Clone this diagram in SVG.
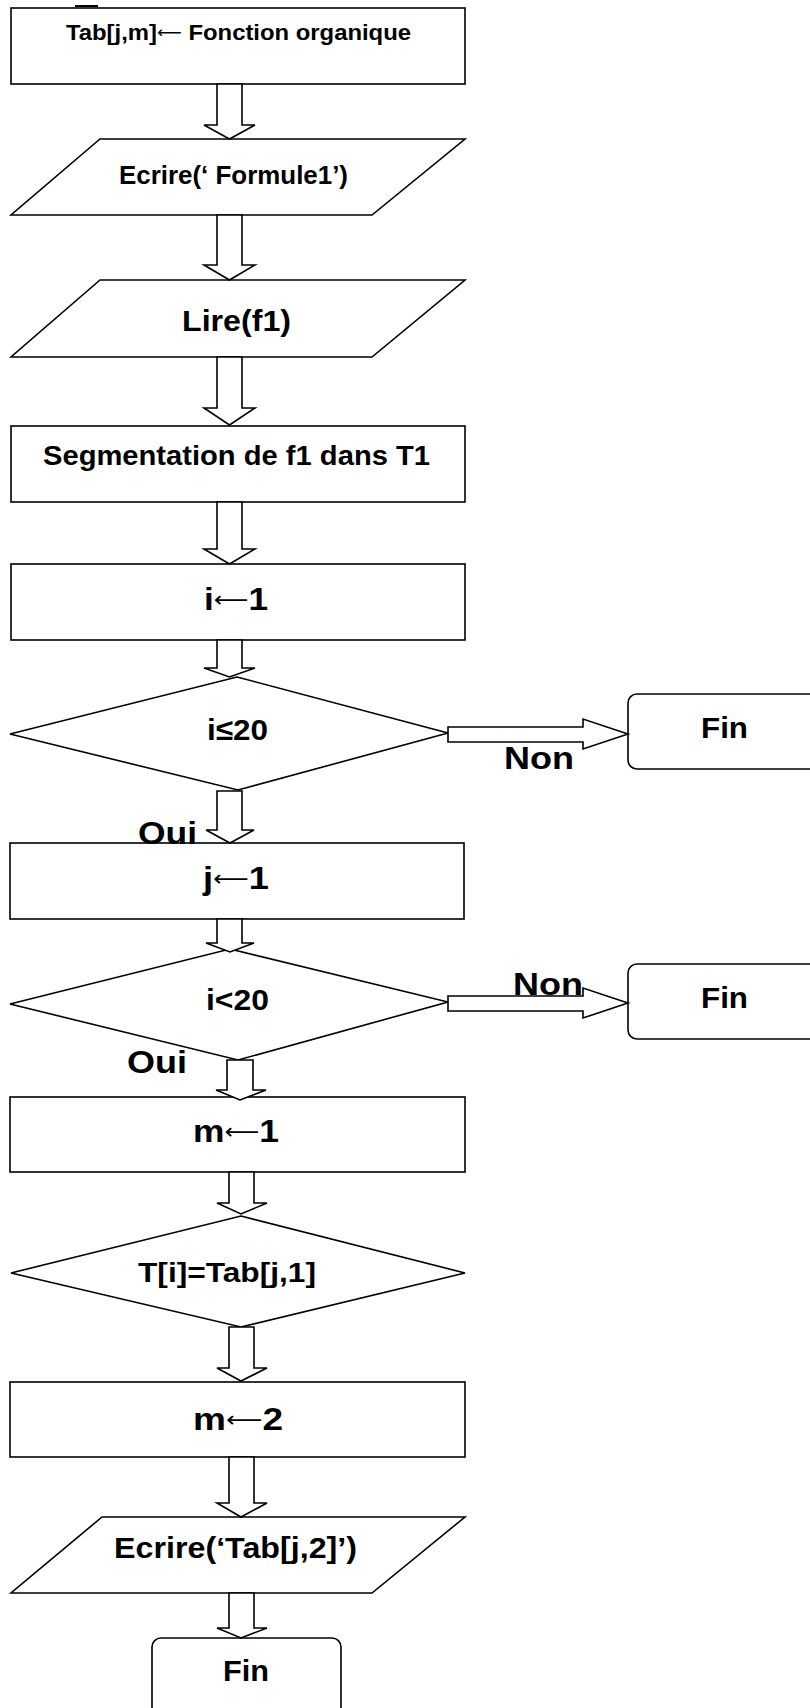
<svg xmlns="http://www.w3.org/2000/svg" width="810" height="1708" viewBox="0 0 810 1708">
<style>
.n{fill:#fff;stroke:#000;stroke-width:1.6}
.c{fill:#fff;stroke:#000;stroke-width:1.6;stroke-linejoin:miter}
.t{font-family:"Liberation Sans",Arial,sans-serif;font-weight:bold;fill:#000}
.a{font-family:"DejaVu Sans",sans-serif;font-weight:normal}
</style>
<rect width="810" height="1708" fill="#fff"/>
<line x1="75" y1="6" x2="98" y2="6" stroke="#000" stroke-width="2"/>
<g id="n1"><rect class="n" x="11" y="8" width="454" height="76"/>
<text class="t" x="66" y="40" font-size="22" textLength="345" lengthAdjust="spacingAndGlyphs">Tab[j,m]<tspan class="a" font-size="16" dy="-2">⟵</tspan><tspan dy="2"> Fonction organique</tspan></text></g>
<g id="n2"><polygon class="n" points="100,139 465,139 372,215 11,215"/>
<text class="t" x="119" y="184" font-size="26" textLength="229" lengthAdjust="spacingAndGlyphs">Ecrire(‘ Formule1’)</text></g>
<g id="n3"><polygon class="n" points="100,280 465,280 372,357 11,357"/>
<text class="t" x="182" y="331" font-size="30" textLength="109" lengthAdjust="spacingAndGlyphs">Lire(f1)</text></g>
<g id="n4"><rect class="n" x="11" y="426" width="454" height="76"/>
<text class="t" x="43" y="465" font-size="28" textLength="387" lengthAdjust="spacingAndGlyphs">Segmentation de f1 dans T1</text></g>
<g id="n5"><rect class="n" x="11" y="564" width="454" height="76"/>
<text class="t" x="204" y="610" font-size="32" textLength="64" lengthAdjust="spacingAndGlyphs">i<tspan class="a" font-size="22" dy="-3">⟵</tspan><tspan dy="3">1</tspan></text></g>
<g id="n6"><polygon class="n" points="237,677 448,733 238,790 10,734"/>
<text class="t" x="207" y="740" font-size="30" textLength="61" lengthAdjust="spacingAndGlyphs">i≤20</text></g>
<g id="n7"><rect class="n" x="628" y="694" width="200" height="75" rx="9"/>
<text class="t" x="701" y="738" font-size="30" textLength="47" lengthAdjust="spacingAndGlyphs">Fin</text></g>
<g id="n8"><rect class="n" x="10" y="843" width="454" height="76"/>
<text class="t" x="203" y="889" font-size="32" textLength="66" lengthAdjust="spacingAndGlyphs">j<tspan class="a" font-size="22" dy="-3">⟵</tspan><tspan dy="3">1</tspan></text></g>
<g id="n9"><polygon class="n" points="230,949 448,1002 238,1060 10,1004"/>
<text class="t" x="206" y="1010" font-size="30" textLength="63" lengthAdjust="spacingAndGlyphs">i&lt;20</text></g>
<g id="n10"><rect class="n" x="628" y="964" width="200" height="75" rx="9"/>
<text class="t" x="701" y="1008" font-size="30" textLength="47" lengthAdjust="spacingAndGlyphs">Fin</text></g>
<g id="n11"><rect class="n" x="10" y="1097" width="455" height="75"/>
<text class="t" x="193" y="1142" font-size="32" textLength="86" lengthAdjust="spacingAndGlyphs">m<tspan class="a" font-size="22" dy="-3">⟵</tspan><tspan dy="3">1</tspan></text></g>
<g id="n12"><polygon class="n" points="241,1216 465,1273 241,1327 11,1273"/>
<text class="t" x="138" y="1282" font-size="28" textLength="178" lengthAdjust="spacingAndGlyphs">T[i]=Tab[j,1]</text></g>
<g id="n13"><rect class="n" x="10" y="1382" width="455" height="75"/>
<text class="t" x="193" y="1430" font-size="32" textLength="90" lengthAdjust="spacingAndGlyphs">m<tspan class="a" font-size="22" dy="-3">⟵</tspan><tspan dy="3">2</tspan></text></g>
<g id="n14"><polygon class="n" points="102,1517 465,1517 372,1593 11,1593"/>
<text class="t" x="114" y="1558" font-size="30" textLength="243" lengthAdjust="spacingAndGlyphs">Ecrire(‘Tab[j,2]’)</text></g>
<g id="n15"><rect class="n" x="152" y="1638" width="189" height="90" rx="9"/>
<text class="t" x="223" y="1681" font-size="30" textLength="46" lengthAdjust="spacingAndGlyphs">Fin</text></g>
<g id="connectors">
<path class="c" d="M217,84 V125 H204 L229.5,139 L255,125 H242 V84 Z"/>
<path class="c" d="M217,215 V265 H204 L229.5,280 L255,265 H242 V215 Z"/>
<path class="c" d="M217,357 V408 H204 L229.5,425 L255,408 H242 V357 Z"/>
<path class="c" d="M217,502 V549 H204 L229.5,564 L255,549 H242 V502 Z"/>
<path class="c" d="M217,640 V668 H204 L229.5,677 L255,668 H242 V640 Z"/>
<path class="c" d="M448,727 H583 V719 L628,734 L583,749 V742 H448 Z"/>
<path class="c" d="M217,791 V830 H206 L230,843 L254,830 H242 V791 Z"/>
<path class="c" d="M217,919 V943 H206 L230,952 L254,943 H242 V919 Z"/>
<path class="c" d="M448,996 H583 V988 L628,1003 L583,1018 V1011 H448 Z"/>
<path class="c" d="M227,1060 V1090 H216 L240,1100 L266,1090 H253 V1060 Z"/>
<path class="c" d="M229,1172 V1203 H217 L241,1214 L267,1203 H254 V1172 Z"/>
<path class="c" d="M229,1327 V1368 H217 L241,1381 L267,1368 H254 V1327 Z"/>
<path class="c" d="M229,1457 V1503 H217 L241,1517 L267,1503 H254 V1457 Z"/>
<path class="c" d="M229,1593 V1628 H217 L241,1638 L267,1628 H254 V1593 Z"/>
</g>
<g id="labels">
<text class="t" x="504" y="769" font-size="32" textLength="70" lengthAdjust="spacingAndGlyphs">Non</text>
<text class="t" x="138" y="844" font-size="32" textLength="59" lengthAdjust="spacingAndGlyphs">Oui</text>
<text class="t" x="513" y="995" font-size="32" textLength="70" lengthAdjust="spacingAndGlyphs">Non</text>
<text class="t" x="127" y="1073" font-size="32" textLength="60" lengthAdjust="spacingAndGlyphs">Oui</text>
</g>
</svg>
